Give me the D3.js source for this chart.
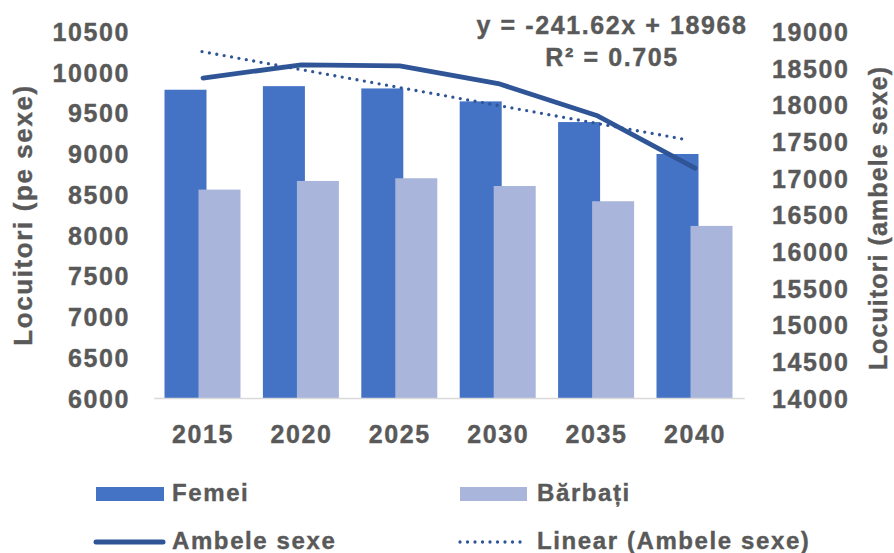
<!DOCTYPE html>
<html>
<head>
<meta charset="utf-8">
<script src="https://cdn.jsdelivr.net/npm/d3@7"></script>
<style>
  body { margin: 0; background: #fff; }
  text { font-family: "Liberation Sans", Arial, sans-serif; font-weight: bold; fill: #595959; stroke: #595959; stroke-width: 0.4px; }
</style>
</head>
<body>
<div id="chart"></div>
<script>
// values
const years = ["2015", "2020", "2025", "2030", "2035", "2040"];
const femei = [9785, 9829, 9801, 9642, 9388, 8996];
const barbati = [8559, 8665, 8698, 8603, 8416, 8113];
const ambele = [18365, 18545, 18530, 18290, 17855, 17135];
// trendline endpoints (first and last year)
const trendEnds = [18726, 17518];
const leftTicks = [6000, 6500, 7000, 7500, 8000, 8500, 9000, 9500, 10000, 10500];
const rightTicks = [14000, 14500, 15000, 15500, 16000, 16500, 17000, 17500, 18000, 18500, 19000];
const equationLines = ["y = -241.62x + 18968", "R² = 0.705"];

const colors = { femei: "#4472C4", barbati: "#A9B5DA", ambele: "#2F5597" };

class ComboChart {
  constructor(_config) {
    this.config = {
      parent: _config.parent,
      width: 894,
      height: 553,
      plot: { left: 153.8, right: 744.2, top: 31.5, bottom: 398 },
    };
    this.initVis();
  }

  initVis() {
    const vis = this;
    const p = vis.config.plot;
    vis.svg = d3.select(vis.config.parent).append("svg")
      .attr("width", vis.config.width)
      .attr("height", vis.config.height);

    vis.x = d3.scaleBand().domain(years).range([p.left, p.right]);
    vis.yLeft = d3.scaleLinear().domain([6000, 10500]).range([p.bottom, p.top]);
    vis.yRight = d3.scaleLinear().domain([14000, 19000]).range([p.bottom, p.top]);

    vis.updateVis();
  }

  updateVis() {
    const vis = this;
    const p = vis.config.plot;
    const center = (d) => vis.x(d) + vis.x.bandwidth() / 2;
    const barW = 42;

    // bars
    vis.svg.selectAll("rect.femei")
      .data(years)
      .join("rect")
      .attr("class", "femei")
      .attr("x", (d) => center(d) - 38.5)
      .attr("y", (d, i) => vis.yLeft(femei[i]))
      .attr("width", barW)
      .attr("height", (d, i) => p.bottom - vis.yLeft(femei[i]))
      .attr("fill", colors.femei);

    vis.svg.selectAll("rect.barbati")
      .data(years)
      .join("rect")
      .attr("class", "barbati")
      .attr("x", (d) => center(d) - 4.5)
      .attr("y", (d, i) => vis.yLeft(barbati[i]))
      .attr("width", barW)
      .attr("height", (d, i) => p.bottom - vis.yLeft(barbati[i]))
      .attr("fill", colors.barbati);

    // category axis line, no ticks
    const xAxis = vis.svg.append("g")
      .attr("transform", `translate(0,${p.bottom})`)
      .call(d3.axisBottom(vis.x).tickSize(0).tickPadding(27));
    xAxis.select(".domain").attr("stroke", "#D9D9D9").attr("stroke-width", 1.5);
    xAxis.selectAll("text").attr("font-size", 25).attr("letter-spacing", 1.6);

    const leftAxis = vis.svg.append("g")
      .attr("transform", "translate(130,0)")
      .call(d3.axisLeft(vis.yLeft).tickValues(leftTicks).tickFormat(d3.format("d")).tickSize(0).tickPadding(0));
    leftAxis.select(".domain").remove();
    leftAxis.selectAll("text").attr("font-size", 25).attr("letter-spacing", 1.6).attr("dy", "0.36em");

    const rightAxis = vis.svg.append("g")
      .attr("transform", "translate(772,0)")
      .call(d3.axisRight(vis.yRight).tickValues(rightTicks).tickFormat(d3.format("d")).tickSize(0).tickPadding(0));
    rightAxis.select(".domain").remove();
    rightAxis.selectAll("text").attr("font-size", 25).attr("letter-spacing", 1.6).attr("dy", "0.36em");
    vis.svg.selectAll(".tick text").attr("fill", "#595959");
    vis.svg.selectAll("g").attr("font-family", null);

    // total line
    const line = d3.line()
      .x((d, i) => center(years[i]))
      .y((d) => vis.yRight(d));
    vis.svg.append("path")
      .datum(ambele)
      .attr("d", line)
      .attr("fill", "none")
      .attr("stroke", colors.ambele)
      .attr("stroke-width", 4.8)
      .attr("stroke-linecap", "round")
      .attr("stroke-linejoin", "round");

    // linear trend
    vis.svg.append("line")
      .attr("x1", center(years[0]) - 1)
      .attr("x2", center(years[years.length - 1]) - 6)
      .attr("y1", vis.yRight(trendEnds[0]))
      .attr("y2", vis.yRight(trendEnds[1]))
      .attr("stroke", colors.ambele)
      .attr("stroke-width", 3.3)
      .attr("stroke-linecap", "round")
      .attr("stroke-dasharray", "0 7.5");

    vis.svg.selectAll("text.eq")
      .data(equationLines)
      .join("text")
      .attr("class", "eq")
      .attr("x", 612)
      .attr("y", (d, i) => 25 + i * 32)
      .attr("dy", "0.36em")
      .attr("text-anchor", "middle")
      .attr("font-size", 25)
      .attr("letter-spacing", 1.6)
      .text((d) => d);

    // axis titles
    vis.svg.append("text")
      .attr("transform", "translate(23,215) rotate(-90)")
      .attr("dy", "0.36em")
      .attr("text-anchor", "middle")
      .attr("font-size", 26)
      .attr("letter-spacing", 1.6)
      .text("Locuitori (pe sexe)");
    vis.svg.append("text")
      .attr("transform", "translate(879,218) rotate(-90)")
      .attr("dy", "0.33em")
      .attr("text-anchor", "middle")
      .attr("font-size", 25)
      .attr("letter-spacing", 1.1)
      .text("Locuitori (ambele sexe)");

    // legend
    const legend = vis.svg.append("g");
    legend.append("rect").attr("x", 96).attr("y", 487).attr("width", 68).attr("height", 14).attr("fill", colors.femei);
    legend.append("rect").attr("x", 460).attr("y", 487).attr("width", 67).attr("height", 14).attr("fill", colors.barbati);
    legend.append("line").attr("x1", 96).attr("x2", 163).attr("y1", 542).attr("y2", 542)
      .attr("stroke", colors.ambele).attr("stroke-width", 5).attr("stroke-linecap", "round");
    legend.append("line").attr("x1", 460).attr("x2", 527).attr("y1", 542).attr("y2", 542)
      .attr("stroke", colors.ambele).attr("stroke-width", 3.3).attr("stroke-linecap", "round")
      .attr("stroke-dasharray", "0 7.5");
    const labels = [
      { t: "Femei", x: 172, y: 493 },
      { t: "Bărbați", x: 537, y: 493 },
      { t: "Ambele sexe", x: 172, y: 541 },
      { t: "Linear (Ambele sexe)", x: 537, y: 541 },
    ];
    legend.selectAll("text")
      .data(labels)
      .join("text")
      .attr("x", (d) => d.x)
      .attr("y", (d) => d.y)
      .attr("dy", "0.35em")
      .attr("font-size", 24)
      .attr("letter-spacing", 1.6)
      .text((d) => d.t);
  }
}

new ComboChart({ parent: "#chart" });
</script>
</body>
</html>
